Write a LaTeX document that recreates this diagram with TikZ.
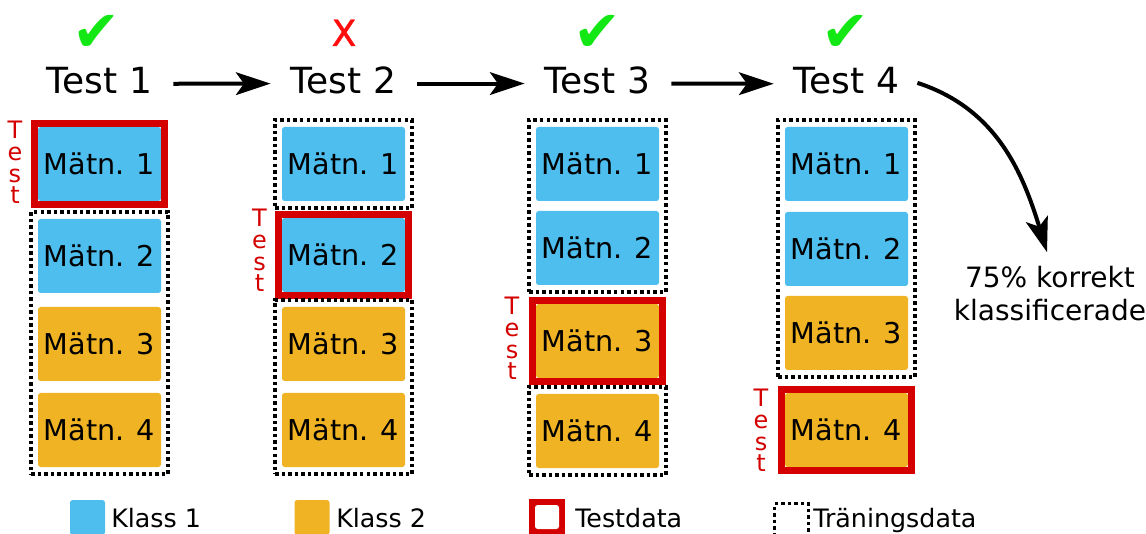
\documentclass[tikz,border=0pt]{standalone}
\usepackage{fontspec}
\setmainfont{DejaVu Sans}
\newfontfamily\crossfont[FakeBold=1.3]{DejaVu Sans}
\usetikzlibrary{arrows.meta,fit}

\definecolor{klassA}{RGB}{77,190,238}
\definecolor{klassB}{RGB}{240,179,35}
\definecolor{testred}{RGB}{212,0,0}
\definecolor{okgreen}{RGB}{20,232,20}
\definecolor{failred}{RGB}{255,12,12}

\tikzset{
  meas/.style={minimum width=92.25pt, minimum height=55.5pt, inner sep=0pt,
    rounded corners=2pt, font=\fontsize{21.5pt}{26pt}\selectfont},
  kA/.style={meas, fill=klassA},
  kB/.style={meas, fill=klassB},
  testframe/.style={draw=testred, line width=5.6pt, inner sep=2.6pt},
  trainframe/.style={draw=black, line width=2.6pt, dash pattern=on 2.6pt off 2.3pt, inner sep=5pt},
  title/.style={font=\fontsize{27pt}{32pt}\selectfont, inner sep=0pt, anchor=base},
  testlbl/.style={text=testred, font=\fontsize{18pt}{16.3pt}\selectfont,
    align=center, inner sep=0pt, anchor=north},
  okmark/.style={text=okgreen, font=\fontsize{43pt}{45pt}\selectfont, inner sep=0pt},
  failmark/.style={text=failred, font=\fontsize{27pt}{32pt}\crossfont, inner sep=0pt, anchor=base},
  flow/.style={line width=3pt, -{Stealth[length=26pt,width=17pt,inset=6pt]}},
  legsq/.style={minimum size=26.25pt, inner sep=0pt, rounded corners=2pt},
  legtxt/.style={font=\fontsize{19pt}{23pt}\selectfont, inner sep=0pt, anchor=base west},
  result/.style={font=\fontsize{21pt}{24.75pt}\selectfont, inner sep=0pt, align=center, anchor=north},
}

\begin{document}
\begin{tikzpicture}[x=0.75pt, y=-0.75pt]
  \path[use as bounding box] (0,0) rectangle (1146,534);
  \clip (0,0) rectangle (1146,534);

  % ---- column 1: measurement 1 is the test set
  \node[kA] (c1b1) at (99.5,164) {Mätn. 1};
  \node[kA] (c1b2) at (99.5,256) {Mätn. 2};
  \node[kB] (c1b3) at (99.5,344) {Mätn. 3};
  \node[kB] (c1b4) at (99.5,430) {Mätn. 4};
  \node[testframe, fit=(c1b1)] (c1test) {};
  \node[trainframe, fit=(c1b2)(c1b4)] (c1train) {};
  \node[testlbl] (c1lbl) at (15,121) {T\\e\\s\\t};

  % ---- column 2: measurement 2 is the test set
  \node[kA] (c2b1) at (343.5,164) {Mätn. 1};
  \node[kA] (c2b2) at (343.5,255) {Mätn. 2};
  \node[kB] (c2b3) at (343.5,344) {Mätn. 3};
  \node[kB] (c2b4) at (343.5,430) {Mätn. 4};
  \node[testframe, fit=(c2b2)] (c2test) {};
  \node[trainframe, fit=(c2b1)] (c2trainA) {};
  \node[trainframe, fit=(c2b3)(c2b4)] (c2trainB) {};
  \node[testlbl] (c2lbl) at (259.5,209) {T\\e\\s\\t};

  % ---- column 3: measurement 3 is the test set
  \node[kA] (c3b1) at (597.5,164) {Mätn. 1};
  \node[kA] (c3b2) at (597.5,248) {Mätn. 2};
  \node[kB] (c3b3) at (597.5,341) {Mätn. 3};
  \node[kB] (c3b4) at (597.5,431) {Mätn. 4};
  \node[testframe, fit=(c3b3)] (c3test) {};
  \node[trainframe, fit=(c3b1)(c3b2)] (c3trainA) {};
  \node[trainframe, fit=(c3b4)] (c3trainB) {};
  \node[testlbl] (c3lbl) at (512,297) {T\\e\\s\\t};

  % ---- column 4: measurement 4 is the test set
  \node[kA] (c4b1) at (846.5,164) {Mätn. 1};
  \node[kA] (c4b2) at (846.5,249) {Mätn. 2};
  \node[kB] (c4b3) at (846.5,333) {Mätn. 3};
  \node[kB] (c4b4) at (846.5,430) {Mätn. 4};
  \node[testframe, fit=(c4b4)] (c4test) {};
  \node[trainframe, fit=(c4b1)(c4b3)] (c4train) {};
  \node[testlbl] (c4lbl) at (761,389) {T\\e\\s\\t};

  % ---- headings with outcome marks
  \node[title] (t1) at (99.5,94) {Test 1};
  \node[title] (t2) at (343.5,94) {Test 2};
  \node[title] (t3) at (597.5,94) {Test 3};
  \node[title] (t4) at (846.5,94) {Test 4};
  \node[okmark] (m1) at (97,33) {✔};
  \node[failmark] (m2) at (344,46) {X};
  \node[okmark] (m3) at (598,33) {✔};
  \node[okmark] (m4) at (846,33) {✔};

  \draw[flow, shorten <=15.75pt, shorten >=15pt] ([yshift=-2pt]t1.east) -- ([yshift=-2pt]t2.west);
  \draw[flow, shorten <=15.75pt, shorten >=15pt] ([yshift=-2pt]t2.east) -- ([yshift=-2pt]t3.west);
  \draw[flow, shorten <=15.75pt, shorten >=15pt] ([yshift=-2pt]t3.east) -- ([yshift=-2pt]t4.west);

  % ---- overall result
  \node[result] (res) at (1050,265.5) {75\% korrekt\\klassificerade};
  \draw[flow] ([xshift=13.5pt, yshift=-1.3pt]t4.east) to[out=-18, in=107] ([xshift=-2.25pt, yshift=10pt]res.north);

  % ---- legend
  \node[legsq, fill=klassA] (lA) at (87.5,517.5) {};
  \node[legtxt] (lAt) at (111,527) {Klass 1};
  \node[legsq, fill=klassB] (lB) at (312,517.5) {};
  \node[legtxt] (lBt) at (336,527) {Klass 2};
  \node[minimum size=27pt, inner sep=0pt, fill=testred] (lT) at (547,517) {};
  \node[minimum size=18pt, inner sep=0pt, fill=white, rounded corners=2pt] (lTin) at (lT) {};
  \node[legtxt] (lTt) at (575,527) {Testdata};
  \node[draw=black, line width=2.6pt, dash pattern=on 2.6pt off 2.3pt,
        minimum width=25.5pt, minimum height=30pt, inner sep=0pt] (lR) at (791.5,523.5) {};
  \node[legtxt] (lRt) at (813,527) {Träningsdata};
\end{tikzpicture}
\end{document}
